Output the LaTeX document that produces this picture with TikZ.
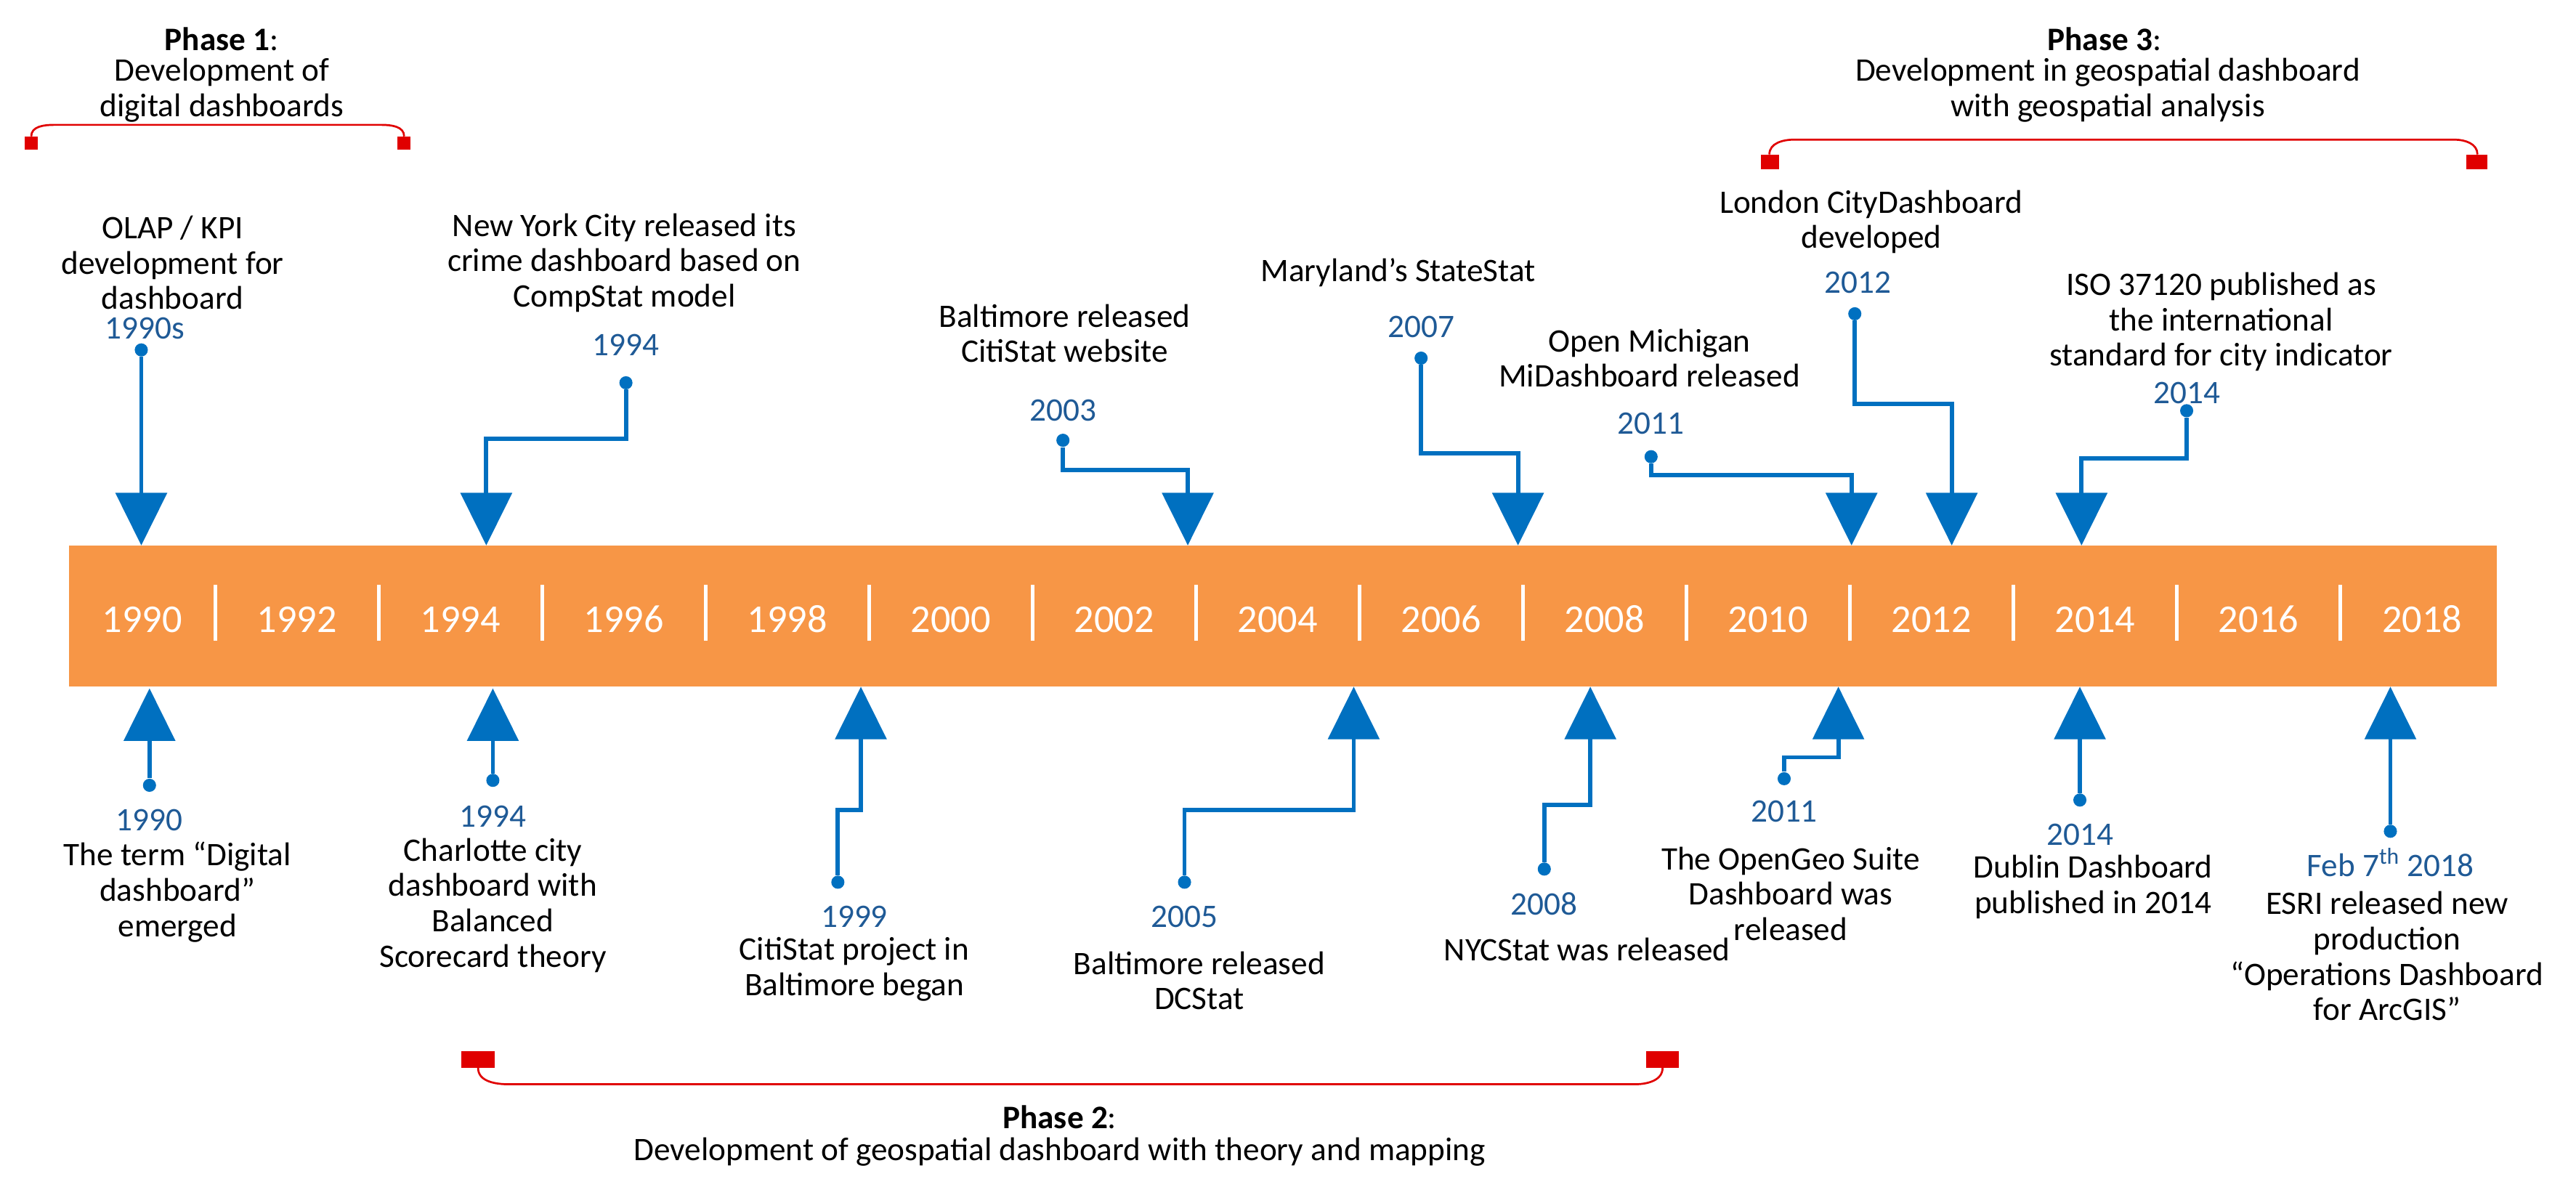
\documentclass[tikz,border=0pt]{standalone}
\usepackage{fontspec}
\setmainfont{Carlito}
\usetikzlibrary{arrows.meta}
\definecolor{barorange}{HTML}{F79646}
\definecolor{lineblue}{HTML}{0070C0}
\definecolor{yearblue}{HTML}{1F5A96}
\definecolor{bred}{HTML}{E00000}
\begin{document}
\begin{tikzpicture}[x=1pt,y=-1pt,
  txt/.style={align=center,inner sep=0pt,font=\fontsize{20}{21.5}\selectfont},
  yr/.style={inner sep=0pt,text=yearblue,font=\fontsize{20}{21.5}\selectfont},
  bary/.style={inner sep=0pt,text=white,font=\fontsize{24}{26}\selectfont},
  dot/.style={circle,fill=lineblue,inner sep=0pt,minimum size=8pt},
  conn/.style={draw=lineblue,line width=2.6pt,-{Triangle[width=31pt,length=32pt]}},
  brk/.style={draw=bred,line width=1.2pt},
  sq/.style={fill=bred}]
\useasboundingbox (0,0) rectangle (1568,727);
% bar
\fill[barorange] (42,332) rectangle (1520,418);
\foreach \i in {0,...,13}{\draw[white,line width=2pt] ({131+99.5*\i},356) -- ({131+99.5*\i},390);}
\node[bary] (b1990) at (86.5,377) {1990};
\foreach \y [count=\k] in {1992,1994,1996,1998,2000,2002,2004,2006,2008,2010,2012,2014,2016,2018}
  {\node[bary] (b\y) at ({131+49.75+99.5*(\k-1)},377) {\y};}
% phase 1
\node[txt] (p1a) at (135,24) {\textbf{Phase 1}:};
\node[txt] (p1b) at (135,55) {Development of\\digital dashboards};
\fill[sq] (15,83) rectangle (23,91); \fill[sq] (242,83) rectangle (250,91);
\draw[brk] (19,83) to[out=90,in=180] (33,76) -- (232,76) to[out=0,in=90] (246,83);
% phase 3
\node[txt] (p3a) at (1281,24) {\textbf{Phase 3}:};
\node[txt] (p3b) at (1283,55) {Development in geospatial dashboard\\with geospatial analysis};
\fill[sq] (1072,94) rectangle (1083,103); \fill[sq] (1501,94) rectangle (1514,103);
\draw[brk] (1077,94) to[out=90,in=180] (1092,85) -- (1494,85) to[out=0,in=90] (1508,94);
% phase 2
\node[txt] (p2a) at (645,680) {\textbf{Phase 2}:};
\node[txt] (p2b) at (645,701) {Development of geospatial dashboard with theory and mapping};
\fill[sq] (281,640) rectangle (301,650); \fill[sq] (1002,640) rectangle (1022,650);
\draw[brk] (291,650) to[out=-90,in=180] (310,660) -- (995,660) to[out=0,in=-90] (1012,650);
% top events
\node[txt] (t1) at (105,160) {OLAP / KPI\\development for\\dashboard};
\node[yr] (y1) at (88,200) {1990s};
\node[dot] (d1) at (86,213) {}; \coordinate (a1) at (86,332);
\draw[conn] (d1) -- (a1);
\node[txt] (t2) at (380,160) {New York City released its\\crime dashboard based on\\CompStat model};
\node[yr] (y2) at (381,210) {1994};
\node[dot] (d2) at (381,233) {}; \coordinate (a2) at (296,332);
\draw[conn] (d2) -- ++(0,34) -| (a2);
\node[txt] (t3) at (648,203) {Baltimore released\\CitiStat website};
\node[yr] (y3) at (647,250) {2003};
\node[dot] (d3) at (647,268) {}; \coordinate (a3) at (723,332);
\draw[conn] (d3) -- ++(0,18) -| (a3);
\node[txt] (t4) at (851,166) {Maryland’s StateStat};
\node[yr] (y4) at (865,199) {2007};
\node[dot] (d4) at (865,218) {}; \coordinate (a4) at (924,332);
\draw[conn] (d4) -- ++(0,58) -| (a4);
\node[txt] (t5) at (1004,218) {Open Michigan\\MiDashboard released};
\node[yr] (y5) at (1005,258) {2011};
\node[dot] (d5) at (1005,278) {}; \coordinate (a5) at (1127,332);
\draw[conn] (d5) -- ++(0,11) -| (a5);
\node[txt] (t6) at (1139,135) {London CityDashboard\\developed};
\node[yr] (y6) at (1131,172) {2012};
\node[dot] (d6) at (1129,191) {}; \coordinate (a6) at (1188,332);
\draw[conn] (d6) -- ++(0,55) -| (a6);
\node[txt] (t7) at (1352,196) {ISO 37120 published as\\the international\\standard for city indicator};
\node[yr] (y7) at (1331,239) {2014};
\node[dot] (d7) at (1331,250) {}; \coordinate (a7) at (1267,332);
\draw[conn] (d7) -- ++(0,29) -| (a7);
% bottom events
\node[yr] (y8) at (91,499) {1990};
\node[txt] (t8) at (108,543) {The term “Digital\\dashboard”\\emerged};
\node[dot] (d8) at (91,478) {}; \coordinate (a8) at (91,419);
\draw[conn] (d8) -- (a8);
\node[yr] (y9) at (300,497) {1994};
\node[txt] (t9) at (300,551) {Charlotte city\\dashboard with\\Balanced\\Scorecard theory};
\node[dot] (d9) at (300,475) {}; \coordinate (a9) at (300,419);
\draw[conn] (d9) -- (a9);
\node[yr] (y10) at (520,558) {1999};
\node[txt] (t10) at (520,590) {CitiStat project in\\Baltimore began};
\node[dot] (d10) at (510,537) {}; \coordinate (a10) at (524,418);
\draw[conn] (d10) -- ++(0,-44) -| (a10);
\node[yr] (y11) at (721,558) {2005};
\node[txt] (t11) at (730,597) {Baltimore released\\DCStat};
\node[dot] (d11) at (721,537) {}; \coordinate (a11) at (824,418);
\draw[conn] (d11) -- ++(0,-44) -| (a11);
\node[yr] (y12) at (940,550) {2008};
\node[txt] (t12) at (966,578) {NYCStat was released};
\node[dot] (d12) at (940,529) {}; \coordinate (a12) at (968,418);
\draw[conn] (d12) -- ++(0,-39) -| (a12);
\node[yr] (y13) at (1086,494) {2011};
\node[txt] (t13) at (1090,544) {The OpenGeo Suite\\Dashboard was\\released};
\node[dot] (d13) at (1086,474) {}; \coordinate (a13) at (1119,418);
\draw[conn] (d13) -- ++(0,-13) -| (a13);
\node[yr] (y14) at (1266,508) {2014};
\node[txt] (t14) at (1274,540) {Dublin Dashboard\\published in 2014};
\node[dot] (d14) at (1266,487) {}; \coordinate (a14) at (1266,418);
\draw[conn] (d14) -- (a14);
\node[yr] (y15) at (1455,525) {Feb 7\textsuperscript{th} 2018};
\node[txt] (t15) at (1453,582) {ESRI released new\\production\\“Operations Dashboard\\for ArcGIS”};
\node[dot] (d15) at (1455,506) {}; \coordinate (a15) at (1455,418);
\draw[conn] (d15) -- (a15);
\end{tikzpicture}
\end{document}
